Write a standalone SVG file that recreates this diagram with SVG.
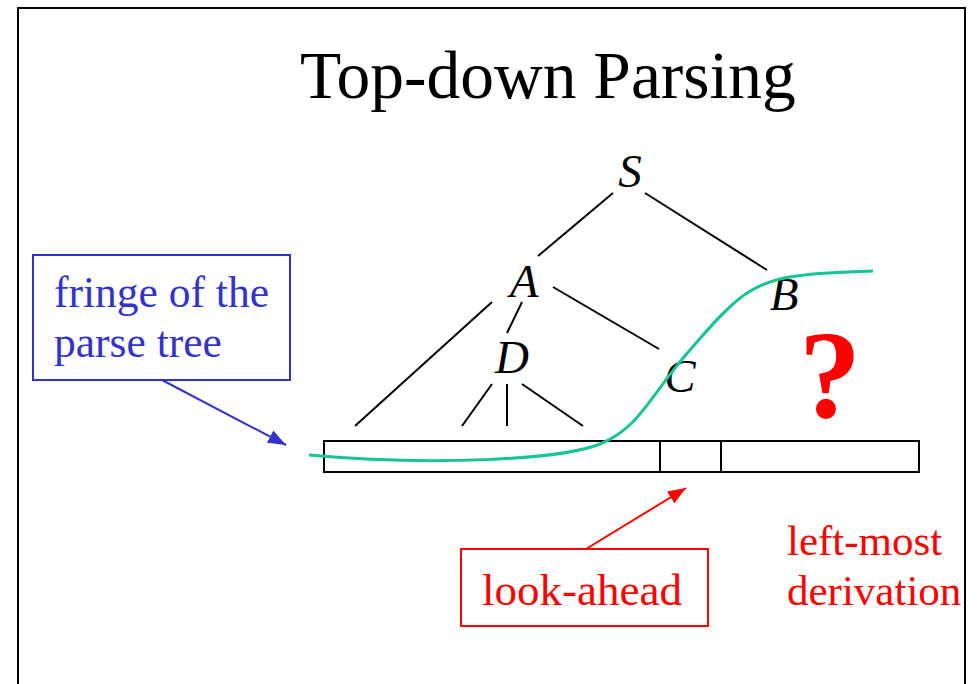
<svg xmlns="http://www.w3.org/2000/svg" width="977" height="684" viewBox="0 0 977 684">
<defs>
<style>
.serif{font-family:"Liberation Serif","Times New Roman",serif}
.node{font-family:"Liberation Serif","Times New Roman",serif;font-style:italic;font-size:47px;fill:#000;text-anchor:middle}
.edge{stroke:#000;stroke-width:2;fill:none}
.blue{fill:#3333CC}
.red{fill:#FF0000}
</style>
<marker id="ahBlue" markerWidth="18" markerHeight="14" refX="18" refY="7" orient="auto" markerUnits="userSpaceOnUse" viewBox="0 0 18 14">
<path d="M0,0 L18,7 L0,14 z" fill="#3333CC"/>
</marker>
<marker id="ahRed" markerWidth="18" markerHeight="14" refX="18" refY="7" orient="auto" markerUnits="userSpaceOnUse" viewBox="0 0 18 14">
<path d="M0,0 L18,7 L0,14 z" fill="#FF0000"/>
</marker>
</defs>
<rect width="977" height="684" fill="#fff"/>
<path d="M18,690 L18,8 L965,8 L965,690" fill="none" stroke="#000" stroke-width="2"/>
<text class="serif" x="300" y="98" font-size="67.5" fill="#000">Top-down Parsing</text>

<g id="connectors">
<line class="edge" x1="613" y1="193" x2="538" y2="256"/>
<line class="edge" x1="645" y1="193" x2="767" y2="270"/>
<line class="edge" x1="492" y1="302" x2="355" y2="426"/>
<line class="edge" x1="522" y1="302" x2="507" y2="333"/>
<line class="edge" x1="553" y1="287" x2="659" y2="349"/>
<line class="edge" x1="492" y1="384" x2="462" y2="426"/>
<line class="edge" x1="507" y1="384" x2="507" y2="426"/>
<line class="edge" x1="522" y1="384" x2="583" y2="426"/>
<line x1="162" y1="380" x2="286" y2="445" stroke="#3333CC" stroke-width="2" marker-end="url(#ahBlue)"/>
<line x1="586" y1="549" x2="686" y2="488" stroke="#FF0000" stroke-width="2" marker-end="url(#ahRed)"/>
</g>

<g id="node-S"><text class="node" x="630" y="187">S</text></g>
<g id="node-A"><text class="node" x="524" y="297">A</text></g>
<g id="node-B"><text class="node" x="784" y="310">B</text></g>
<g id="node-C"><text class="node" x="680" y="392">C</text></g>
<g id="node-D"><text class="node" x="512" y="373">D</text></g>

<g id="input-tape">
<rect x="324" y="441" width="595" height="31" fill="none" stroke="#000" stroke-width="2"/>
<line x1="660" y1="441" x2="660" y2="472" stroke="#000" stroke-width="2"/>
<line x1="721" y1="441" x2="721" y2="472" stroke="#000" stroke-width="2"/>
</g>

<g id="fringe-curve">
<path d="M309,455 C430,466 560,460 600,444 C640,428 650,395 690,350 C725,310 745,284 790,277 C820,272 850,272 873,271" fill="none" stroke="#14C596" stroke-width="3"/>
</g>

<g id="fringe-label">
<rect x="33" y="255" width="257" height="125" fill="none" stroke="#3333CC" stroke-width="2"/>
<text class="serif blue" x="54" y="307" font-size="43.5">fringe of the</text>
<text class="serif blue" x="54" y="357" font-size="43.5">parse tree</text>
</g>

<g id="lookahead-label">
<rect x="461" y="549" width="247" height="77" fill="none" stroke="#FF0000" stroke-width="2"/>
<text class="serif red" x="482" y="605" font-size="45">look-ahead</text>
</g>

<g id="leftmost-label">
<text class="serif red" x="787" y="555" font-size="43">left-most</text>
<text class="serif red" x="787" y="605" font-size="43">derivation</text>
</g>

<g id="question">
<text class="serif red" x="830" y="417" font-size="124" font-weight="bold" text-anchor="middle">?</text>
</g>
</svg>
